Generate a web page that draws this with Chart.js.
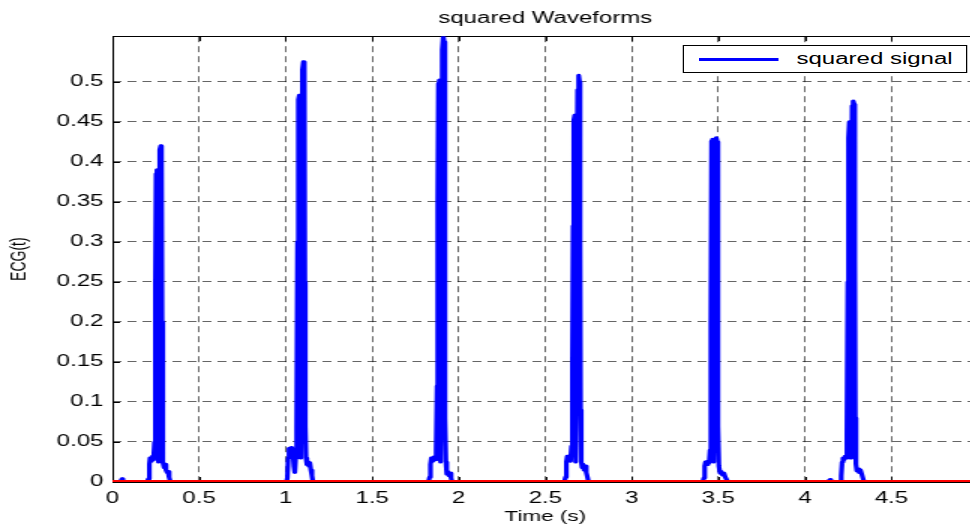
<!DOCTYPE html>
<html>
<head>
<meta charset="utf-8">
<script src="https://cdn.jsdelivr.net/npm/chart.js@4.4.1/dist/chart.umd.min.js"></script>
<style>
  html, body { margin: 0; padding: 0; background: #fff; overflow: hidden; width: 970px; height: 532px; }
  /* The figure is laid out narrow and widened 1.5x horizontally */
  #wrap { position: relative; width: 654px; height: 532px; transform: scaleX(1.5); transform-origin: 0 0; }
  #c { display: block; }
  #legend {
    position: absolute; left: 455px; top: 45px; width: 190px; height: 28px;
    border: 1px solid #000; background: #fff; box-sizing: border-box;
    font: 16px "Liberation Sans", Arial, sans-serif; color: #000;
    display: flex; align-items: center; white-space: nowrap;
  }
  #legend .swatch { width: 53px; height: 3px; margin-left: 10px; margin-right: 12px; flex: none; }
</style>
</head>
<body>
<div id="wrap">
  <canvas id="c" width="654" height="532"></canvas>
  <div id="legend"></div>
</div>
<script>
// Squared ECG signal (time in seconds, amplitude squared)
const timeSec = [
  0.000, 0.045, 0.050, 0.055, 0.060, 0.065,
  0.200, 0.208, 0.213, 0.217, 0.225, 0.231, 0.237, 0.243, 0.248, 0.252, 0.257, 0.262, 0.265, 0.269, 0.273, 0.279, 0.283, 0.286, 0.289, 0.292, 0.298, 0.304, 0.309, 0.315, 0.321, 0.327, 0.335,
  1.005, 1.010, 1.015, 1.020, 1.028, 1.035, 1.042, 1.048, 1.053, 1.058, 1.064, 1.069, 1.074, 1.079, 1.084, 1.088, 1.092, 1.097, 1.103, 1.108, 1.111, 1.114, 1.118, 1.123, 1.128, 1.134, 1.140, 1.146, 1.152, 1.158,
  1.825, 1.832, 1.837, 1.842, 1.850, 1.857, 1.864, 1.870, 1.875, 1.879, 1.883, 1.888, 1.892, 1.895, 1.899, 1.905, 1.911, 1.916, 1.919, 1.922, 1.926, 1.931, 1.937, 1.943, 1.950, 1.956, 1.962,
  2.610, 2.617, 2.622, 2.627, 2.634, 2.640, 2.646, 2.652, 2.657, 2.661, 2.665, 2.670, 2.674, 2.677, 2.681, 2.687, 2.693, 2.698, 2.701, 2.704, 2.708, 2.713, 2.718, 2.724, 2.730, 2.737, 2.744, 2.750,
  3.410, 3.416, 3.421, 3.426, 3.433, 3.440, 3.447, 3.452, 3.457, 3.461, 3.466, 3.470, 3.473, 3.477, 3.482, 3.488, 3.493, 3.496, 3.499, 3.503, 3.510, 3.517, 3.524, 3.532, 3.540, 3.548, 3.555,
  4.135, 4.140, 4.145, 4.150, 4.205, 4.210, 4.215, 4.220, 4.226, 4.232, 4.238, 4.243, 4.248, 4.252, 4.257, 4.261, 4.264, 4.268, 4.273, 4.279, 4.285, 4.288, 4.291, 4.295, 4.300, 4.307, 4.314, 4.321, 4.328, 4.335, 4.342,
  5.000
];
const squaredSignal = [
  0, 0, 0.002, 0.004, 0.002, 0,
  0, 0.004, 0.022, 0.030, 0.026, 0.032, 0.028, 0.050, 0.250, 0.385, 0.390, 0.150, 0.025, 0.200, 0.415, 0.420, 0.410, 0.200, 0.060, 0.025, 0.018, 0.022, 0.015, 0.012, 0.013, 0.006, 0,
  0, 0.005, 0.030, 0.042, 0.040, 0.043, 0.038, 0.020, 0.012, 0.030, 0.070, 0.300, 0.478, 0.483, 0.200, 0.030, 0.250, 0.515, 0.525, 0.520, 0.250, 0.070, 0.030, 0.022, 0.025, 0.020, 0.024, 0.015, 0.008, 0,
  0, 0.006, 0.022, 0.030, 0.026, 0.031, 0.028, 0.040, 0.120, 0.350, 0.498, 0.502, 0.200, 0.025, 0.300, 0.540, 0.557, 0.550, 0.300, 0.080, 0.025, 0.010, 0.013, 0.008, 0.011, 0.005, 0,
  0, 0.006, 0.025, 0.032, 0.028, 0.030, 0.026, 0.045, 0.150, 0.320, 0.452, 0.458, 0.200, 0.025, 0.300, 0.490, 0.508, 0.500, 0.300, 0.090, 0.025, 0.018, 0.022, 0.015, 0.020, 0.012, 0.006, 0,
  0, 0.005, 0.020, 0.025, 0.022, 0.026, 0.024, 0.040, 0.200, 0.426, 0.428, 0.200, 0.025, 0.250, 0.428, 0.430, 0.425, 0.250, 0.070, 0.020, 0.011, 0.013, 0.009, 0.011, 0.006, 0.003, 0,
  0, 0.002, 0.003, 0, 0, 0.008, 0.025, 0.030, 0.028, 0.032, 0.030, 0.060, 0.250, 0.430, 0.450, 0.200, 0.030, 0.300, 0.470, 0.476, 0.472, 0.280, 0.080, 0.022, 0.014, 0.016, 0.012, 0.015, 0.010, 0.005, 0,
  0
];

// Detection level drawn along the baseline
const levelTime = [0, 5];
const levelValue = [0, 0];

// Axis ticks
const xTicks = [0, 0.5, 1, 1.5, 2, 2.5, 3, 3.5, 4, 4.5];
const yTicks = [0, 0.05, 0.1, 0.15, 0.2, 0.25, 0.3, 0.35, 0.4, 0.45, 0.5];
const yMax = 0.557;

const FONT = '"Liberation Sans", Arial, Helvetica, sans-serif';

const toPoints = (xs, ys) => xs.map((x, i) => ({ x: x, y: ys[i] }));

// Axes box with inward tick marks (drawn under the traces)
const axesBox = {
  id: 'axesBox',
  beforeDatasetsDraw(chart) {
    const { ctx, chartArea: a, scales } = chart;
    ctx.save();
    ctx.strokeStyle = '#000';
    ctx.lineWidth = 1;
    ctx.setLineDash([]);
    ctx.strokeRect(Math.round(a.left) + 0.5, Math.round(a.top) + 0.5,
                   Math.round(a.right - a.left), Math.round(a.bottom - a.top));
    const len = 5;
    ctx.beginPath();
    scales.x.ticks.forEach(t => {
      const px = Math.round(scales.x.getPixelForValue(t.value)) + 0.5;
      ctx.moveTo(px, a.bottom); ctx.lineTo(px, a.bottom - len);
      ctx.moveTo(px, a.top); ctx.lineTo(px, a.top + len);
    });
    scales.y.ticks.forEach(t => {
      const py = Math.round(scales.y.getPixelForValue(t.value)) + 0.5;
      ctx.moveTo(a.left, py); ctx.lineTo(a.left + len, py);
      ctx.moveTo(a.right, py); ctx.lineTo(a.right - len, py);
    });
    ctx.stroke();
    ctx.restore();
  }
};

const chart = new Chart(document.getElementById('c'), {
  type: 'line',
  data: {
    datasets: [
      {
        label: 'squared signal',
        data: toPoints(timeSec, squaredSignal),
        borderColor: '#0000ff',
        backgroundColor: '#0000ff',
        borderWidth: 3.2,
        borderJoinStyle: 'round',
        borderCapStyle: 'round',
        pointRadius: 0,
        tension: 0,
        order: 1
      },
      {
        label: 'level',
        data: toPoints(levelTime, levelValue),
        borderColor: '#ff0000',
        backgroundColor: '#ff0000',
        borderWidth: 4,
        pointRadius: 0,
        tension: 0,
        order: 0
      }
    ]
  },
  options: {
    responsive: false,
    animation: false,
    devicePixelRatio: 1,
    layout: { padding: { left: 0, right: 2, top: 0, bottom: 0 } },
    plugins: {
      legend: { display: false },
      tooltip: { enabled: false },
      title: {
        display: true,
        text: 'squared Waveforms',
        fullSize: false,
        color: '#000',
        font: { family: FONT, size: 16, weight: 'normal' },
        padding: { top: 9, bottom: 8 }
      }
    },
    scales: {
      x: {
        type: 'linear',
        min: 0,
        max: 5,
        afterBuildTicks: s => { s.ticks = xTicks.map(v => ({ value: v })); },
        afterFit: s => { s.height = 50; },
        grid: { color: 'rgba(0,0,0,0.6)', lineWidth: 1, drawTicks: false },
        border: { display: false, dash: [6, 4] },
        ticks: {
          color: '#000',
          font: { family: FONT, size: 16 },
          padding: 7,
          maxRotation: 0,
          autoSkip: false,
          callback: v => String(v)
        },
        title: {
          display: true,
          text: 'Time (s)',
          color: '#000',
          font: { family: FONT, size: 15 },
          padding: { top: 0, bottom: 6 }
        }
      },
      y: {
        type: 'linear',
        min: 0,
        max: yMax,
        afterBuildTicks: s => { s.ticks = yTicks.map(v => ({ value: v })); },
        afterFit: s => { s.width = 75; },
        grid: { color: 'rgba(0,0,0,0.6)', lineWidth: 1, drawTicks: false },
        border: { display: false, dash: [6, 4] },
        ticks: {
          color: '#000',
          font: { family: FONT, size: 16 },
          padding: 6,
          autoSkip: false,
          callback: v => String(v)
        },
        title: {
          display: true,
          text: 'ECG(t)',
          color: '#000',
          font: { family: FONT, size: 14 },
          padding: { top: 5, bottom: 0 }
        }
      }
    }
  },
  plugins: [axesBox]
});

// Legend entry for the squared trace
const lg = document.getElementById('legend');
const ds = chart.data.datasets[0];
const sw = document.createElement('span');
sw.className = 'swatch';
sw.style.background = ds.borderColor;
const tx = document.createElement('span');
tx.textContent = ds.label;
lg.appendChild(sw);
lg.appendChild(tx);
</script>
</body>
</html>
